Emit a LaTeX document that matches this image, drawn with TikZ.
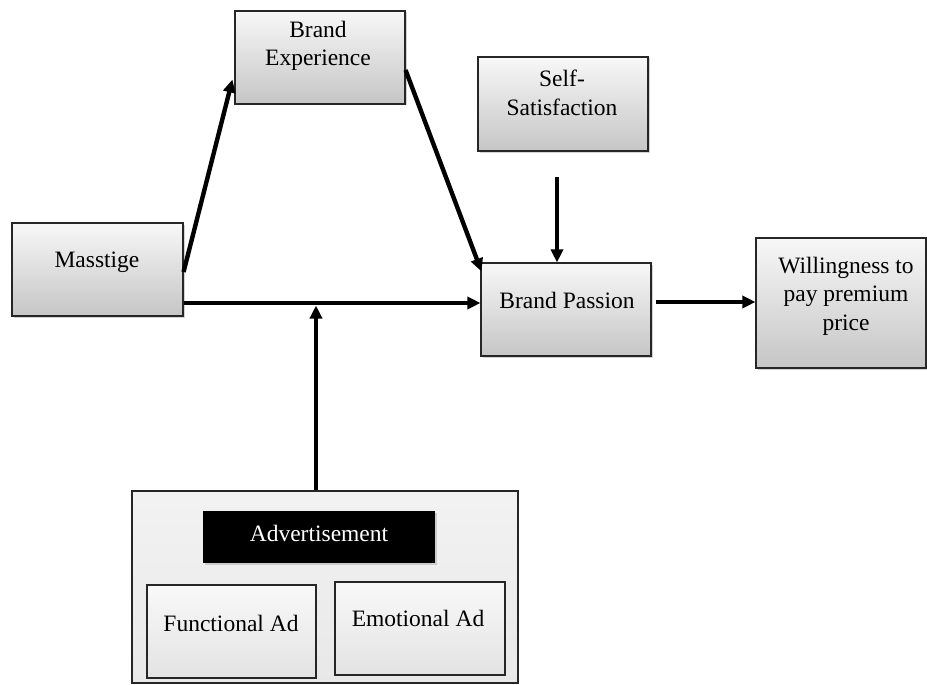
\documentclass[tikz,border=0pt]{standalone}
\usepackage{fontspec}
\setmainfont{Liberation Serif}
\usetikzlibrary{arrows.meta,shadows,calc}
\begin{document}
\begin{tikzpicture}[x=1pt,y=-1pt,
  box/.style={draw=black!85,line width=1.1pt,top color=gray!6,bottom color=gray!45,
    minimum width=#1,inner sep=0pt,
    drop shadow={opacity=0.35,shadow xshift=1.5pt,shadow yshift=-1.5pt}},
  lbox/.style={draw=black!85,line width=1.1pt,top color=gray!5,bottom color=gray!22,
    inner sep=0pt},
  txt/.style={font=\fontsize{23.5}{28.5}\selectfont,align=center,inner sep=0pt},
  arr/.style={line width=4.4pt,-{Triangle[length=13pt,width=12pt]}}]
\useasboundingbox (0,0) rectangle (927,685);
% boxes
\node[box=171pt,minimum height=93pt] (ms) at (97.5,269.5) {};
\node[box=170pt,minimum height=93pt] (be) at (320,57.5) {};
\node[box=170pt,minimum height=94pt] (ss) at (563,104) {};
\node[box=170pt,minimum height=93pt] (bp) at (566,309.5) {};
\node[box=170pt,minimum height=130pt] (wp) at (841,303) {};
\node[draw=black!85,line width=1.1pt,top color=gray!10,bottom color=gray!18,
      minimum width=386pt,minimum height=192pt,inner sep=0pt] (ad) at (325,587) {};
\node[fill=black,minimum width=232pt,minimum height=52pt,inner sep=0pt,
      drop shadow={opacity=0.3,shadow xshift=1.5pt,shadow yshift=-1.5pt}] (adh) at (319,537) {};
\node[lbox,minimum width=169pt,minimum height=93pt] (fa) at (231.5,631.5) {};
\node[lbox,minimum width=170pt,minimum height=93pt] (ea) at (420,628.5) {};
% texts
\node[txt] (ms-t) at (97,262) {Masstige};
\node[txt] (be-t) at (318,46) {Brand\\Experience};
\node[txt] (ss-t) at (562,93) {Self-\\Satisfaction};
\node[txt] (bp-t) at (567,300) {Brand Passion};
\node[txt] (wp-t) at (846,296) {Willingness to\\pay premium\\price};
\node[txt,text=white] (adh-t) at (319,533) {Advertisement};
\node[txt] (fa-t) at (231,623) {Functional Ad};
\node[txt] (ea-t) at (418,618) {Emotional Ad};
% connectors
\coordinate (j) at (316,305.5);
\coordinate (sst) at (557,177);
\draw[arr] ([yshift=-2.5pt]ms.east) -- ([xshift=-2pt,yshift=-22pt]be.west);
\draw[arr] ([yshift=-12.5pt]be.east) -- ([xshift=1pt,yshift=-9pt]bp.north west);
\draw[arr] ([yshift=-33.5pt]ms.east) -- ([yshift=-33.5pt]ms.east -| bp.west);
\draw[arr] (j |- ad.north) -- (j);
\draw[arr] (sst) -- (sst |- bp.north);
\draw[arr] ([xshift=4pt,yshift=7.5pt]bp.east) -- ([yshift=7.5pt]bp.east -| wp.west);
\end{tikzpicture}
\end{document}
